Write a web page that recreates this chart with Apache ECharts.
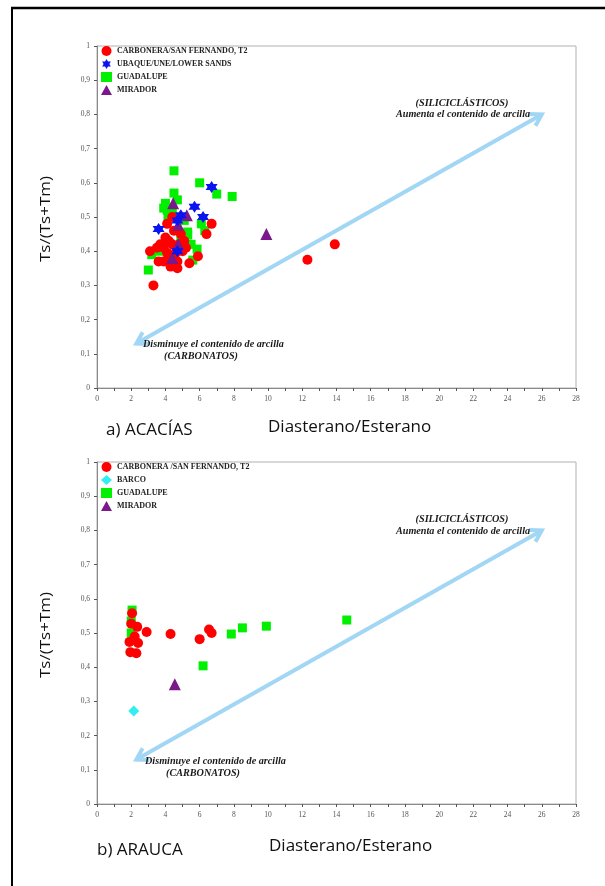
<!DOCTYPE html>
<html>
<head>
<meta charset="utf-8">
<script src="https://cdn.jsdelivr.net/npm/echarts@6/dist/echarts.min.js"></script>
<style>
html,body{margin:0;padding:0;background:#fff;}
#chart{width:605px;height:886px;}
</style>
</head>
<body>
<div id="chart"></div>
<script>
// ---- a) Acacías : [Diasterano/Esterano, Ts/(Ts+Tm)] ----
const acaciasCarbonera = [
  [3.3,0.30],[3.1,0.40],[3.6,0.37],[3.7,0.42],[3.9,0.41],[4.1,0.395],[4.3,0.355],
  [4.7,0.35],[5.4,0.365],[5.9,0.385],[6.4,0.45],[6.7,0.48],[4.1,0.48],[5.1,0.43],
  [5.0,0.40],[4.6,0.395],[4.4,0.42],[4.3,0.38],[4.7,0.37],[4.0,0.44],[4.5,0.46],
  [3.9,0.37],[4.8,0.42],[5.2,0.41],[4.2,0.43],[3.5,0.41],[4.9,0.45],[4.4,0.50],
  [12.3,0.375],[13.9,0.42]
];
const acaciasUbaque = [
  [6.7,0.588],[5.7,0.53],[6.2,0.50],[4.7,0.49],[3.6,0.465],[4.7,0.40],[4.9,0.505]
];
const acaciasGuadalupe = [
  [4.5,0.635],[6.0,0.60],[7.0,0.567],[7.9,0.56],[4.5,0.57],[4.0,0.54],[3.9,0.526],
  [4.7,0.55],[3.0,0.345],[5.3,0.447],[5.85,0.406],[6.3,0.46],[3.2,0.39],[4.15,0.50],
  [5.1,0.49],[5.3,0.456],[5.6,0.374],[4.4,0.515],[4.1,0.52],[5.5,0.42],[4.9,0.43],
  [3.6,0.40],[6.1,0.48]
];
const acaciasMirador = [
  [4.45,0.54],[5.25,0.505],[4.75,0.477],[4.75,0.42],[4.4,0.38],[9.9,0.45]
];

// ---- b) Arauca ----
const araucaCarbonera = [
  [2.05,0.558],[2.0,0.527],[2.35,0.518],[2.2,0.49],[1.9,0.474],[2.4,0.471],
  [1.95,0.444],[2.3,0.441],[2.9,0.503],[4.3,0.497],[6.0,0.482],[6.55,0.51],[6.7,0.50]
];
const araucaBarco = [[2.15,0.272]];
const araucaGuadalupe = [
  [2.05,0.567],[2.0,0.535],[2.0,0.50],[6.2,0.404],[7.85,0.497],[8.5,0.515],[9.9,0.52],[14.6,0.538]
];
const araucaMirador = [[4.55,0.35]];

// trend arrow (clay content), shared by both panels
const arrowEnds = [[2.3,0.13],[26.0,0.80]];

// axis ticks
const xMax = 28, xLabelStep = 2;
const yMax = 1, yStep = 0.1;

const STAR = 'path://M0,-10 L2.9,-5 L8.66,-5 L5.8,0 L8.66,5 L2.9,5 L0,10 L-2.9,5 L-8.66,5 L-5.8,0 L-8.66,-5 L-2.9,-5 Z';

const serifBold = {fontFamily:'Liberation Serif', fontWeight:'bold', fontStyle:'italic', fontSize:10.2, fill:'#1a1a1a'};
const sansTitle = '17px "Open Sans"';

function xAxis(gi){
  return {
    gridIndex: gi, type:'value', min:0, max:xMax, interval:1,
    axisLine:{lineStyle:{color:'#8a8a8a',width:1}},
    axisTick:{show:true,length:3,lineStyle:{color:'#555'}},
    axisLabel:{fontFamily:'Liberation Serif',fontSize:7.5,color:'#555',margin:7,
      formatter:v => (v % xLabelStep === 0 ? String(v) : '')},
    splitLine:{show:false}
  };
}
function yAxis(gi){
  return {
    gridIndex: gi, type:'value', min:0, max:yMax, interval:yStep,
    axisLine:{show:true,lineStyle:{color:'#8a8a8a',width:1}},
    axisTick:{show:true,length:3,lineStyle:{color:'#555'}},
    axisLabel:{fontFamily:'Liberation Serif',fontSize:7.5,color:'#555',margin:7,
      formatter:v => (Math.abs(v) < 1e-9 ? '0' : Math.abs(v-1) < 1e-9 ? '1' : v.toFixed(1).replace('.', ','))},
    splitLine:{show:false}
  };
}

function arrowSeries(gi){
  return {
    type:'custom', xAxisIndex:gi, yAxisIndex:gi, silent:true, z:1,
    data:[[arrowEnds[0][0],arrowEnds[0][1],arrowEnds[1][0],arrowEnds[1][1]]],
    renderItem:function(params, api){
      const p0 = api.coord([api.value(0), api.value(1)]);
      const p1 = api.coord([api.value(2), api.value(3)]);
      const ang = Math.atan2(p1[1]-p0[1], p1[0]-p0[0]);
      const L = 13, spread = 0.55;
      function head(p, a){
        return [[p[0]+L*Math.cos(a+spread), p[1]+L*Math.sin(a+spread)], p,
                [p[0]+L*Math.cos(a-spread), p[1]+L*Math.sin(a-spread)]];
      }
      const st = {stroke:'#a2d6f5', lineWidth:4, fill:null, lineCap:'butt', lineJoin:'miter'};
      return {type:'group', children:[
        {type:'line', shape:{x1:p0[0],y1:p0[1],x2:p1[0],y2:p1[1]}, style:st},
        {type:'polyline', shape:{points:head(p1, ang+Math.PI)}, style:st},
        {type:'polyline', shape:{points:head(p0, ang)}, style:st}
      ]};
    }
  };
}

function scatter(name, data, gi, symbol, size, color){
  return {name, type:'scatter', xAxisIndex:gi, yAxisIndex:gi, data, symbol, symbolSize:size,
    itemStyle:{color, opacity:1}, z:3};
}

const legendText = {fontFamily:'Liberation Serif', fontWeight:'bold', fontSize:8, color:'#222'};

function note(x, y, text, align){
  return {type:'text', x, y, z:10, style:Object.assign({text, align, verticalAlign:'middle'}, serifBold)};
}

const option = {
  backgroundColor:'#fff',
  animation:false,
  grid:[
    {left:97, top:46, width:479, height:342, show:true, borderColor:'#b0b0b0', borderWidth:1, backgroundColor:'transparent'},
    {left:97, top:462, width:479, height:342, show:true, borderColor:'#b0b0b0', borderWidth:1, backgroundColor:'transparent'}
  ],
  xAxis:[xAxis(0), xAxis(1)],
  yAxis:[yAxis(0), yAxis(1)],
  legend:[
    {orient:'vertical', left:101, top:46, itemWidth:11, itemHeight:10, itemGap:3,
     textStyle:legendText, padding:0,
     data:['CARBONERA/SAN FERNANDO, T2','UBAQUE/UNE/LOWER SANDS','GUADALUPE','MIRADOR']},
    {orient:'vertical', left:101, top:462, itemWidth:11, itemHeight:10, itemGap:3,
     textStyle:legendText, padding:0,
     data:['CARBONERA /SAN FERNANDO, T2','BARCO','GUADALUPE ','MIRADOR ']}
  ],
  series:[
    arrowSeries(0),
    scatter('GUADALUPE', acaciasGuadalupe, 0, 'rect', 9, '#00f000'),
    scatter('CARBONERA/SAN FERNANDO, T2', acaciasCarbonera, 0, 'circle', 10, '#ff0000'),
    scatter('MIRADOR', acaciasMirador, 0, 'triangle', 12, '#7a1a8a'),
    scatter('UBAQUE/UNE/LOWER SANDS', acaciasUbaque, 0, STAR, 12, '#0a14f0'),
    arrowSeries(1),
    scatter('GUADALUPE ', araucaGuadalupe, 1, 'rect', 9, '#00f000'),
    scatter('CARBONERA /SAN FERNANDO, T2', araucaCarbonera, 1, 'circle', 10, '#ff0000'),
    scatter('BARCO', araucaBarco, 1, 'diamond', 11, '#33eef0'),
    scatter('MIRADOR ', araucaMirador, 1, 'triangle', 12, '#7a1a8a')
  ],
  graphic:[
    // page frame
    {type:'line', shape:{x1:11, y1:8, x2:605, y2:8}, style:{stroke:'#000', lineWidth:2.5}},
    {type:'line', shape:{x1:12, y1:7, x2:12, y2:886}, style:{stroke:'#000', lineWidth:2}},
    // axis titles
    {type:'text', x:46, y:219, rotation:Math.PI/2, scaleY:0.85, style:{text:'Ts/(Ts+Tm)', font:sansTitle, fill:'#111', align:'center', verticalAlign:'middle'}},
    {type:'text', x:46, y:635, rotation:Math.PI/2, scaleY:0.85, style:{text:'Ts/(Ts+Tm)', font:sansTitle, fill:'#111', align:'center', verticalAlign:'middle'}},
    {type:'text', x:106, y:430, style:{text:'a) ACACÍAS', font:sansTitle, fill:'#111', verticalAlign:'middle'}},
    {type:'text', x:268, y:427, style:{text:'Diasterano/Esterano', font:sansTitle, fill:'#111', verticalAlign:'middle'}},
    {type:'text', x:97, y:850, style:{text:'b) ARAUCA', font:sansTitle, fill:'#111', verticalAlign:'middle'}},
    {type:'text', x:269, y:846, style:{text:'Diasterano/Esterano', font:sansTitle, fill:'#111', verticalAlign:'middle'}},
    // arrow notes, panel a
    note(462, 103, '(SILICICLÁSTICOS)', 'center'),
    note(463, 114, 'Aumenta el contenido de arcilla', 'center'),
    note(143, 344, 'Disminuye el contenido de arcilla', 'left'),
    note(201, 356, '(CARBONATOS)', 'center'),
    // arrow notes, panel b
    note(462, 519, '(SILICICLÁSTICOS)', 'center'),
    note(463, 531, 'Aumenta el contenido de arcilla', 'center'),
    note(145, 761, 'Disminuye el contenido de arcilla', 'left'),
    note(203, 773, '(CARBONATOS)', 'center')
  ]
};

const chart = echarts.init(document.getElementById('chart'), null, {renderer:'canvas'});
chart.setOption(option);
</script>
</body>
</html>
